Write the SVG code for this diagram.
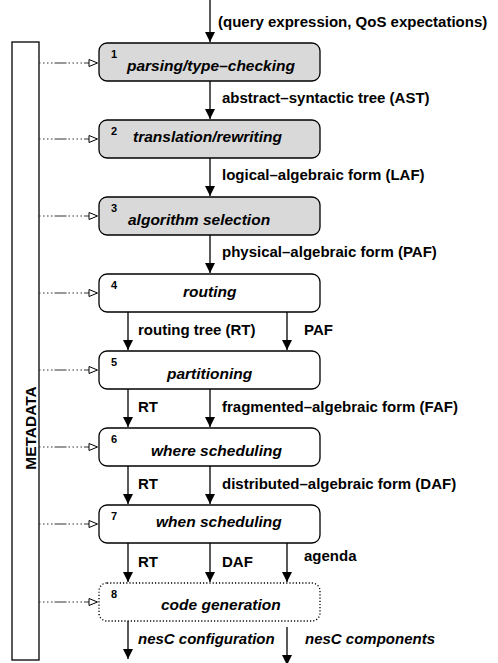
<svg xmlns="http://www.w3.org/2000/svg" width="498" height="663" viewBox="0 0 498 663">
<style>
text{font-family:"Liberation Sans",Arial,sans-serif;font-weight:bold;fill:#000}
.lbl{font-size:15px}
.it{font-style:italic;font-size:15.5px}
.num{font-size:11px}
.box{stroke:#000;stroke-width:1.3}
.g{fill:#d9d9d9}
.w{fill:#fff}
.dot{stroke-dasharray:1.2 2}
.arr{stroke:#000;stroke-width:1.3;fill:none;marker-end:url(#ah)}
.meta{stroke:#333;stroke-width:1;fill:none;stroke-dasharray:1.5 2.5 1.5 2.5 1.5 2.5 1.5 2 12 2}
.tri{fill:#fff;stroke:#000;stroke-width:1}
</style>
<defs>
<marker id="ah" markerWidth="10" markerHeight="10" refX="10" refY="5" orient="auto" markerUnits="userSpaceOnUse" viewBox="0 0 10 10">
<path d="M0,0 L10,5 L0,10 Z" fill="#000"/>
</marker>
</defs>
<g id="metadata">
<rect x="12" y="42" width="27" height="618" fill="#fff" stroke="#000" stroke-width="1.3"/>
<text transform="translate(36,428) rotate(-90)" text-anchor="middle" style="font-size:15.5px">METADATA</text>
</g>
<g id="n1"><rect class="box g" x="99" y="43" width="221" height="38" rx="8"/><text class="num" x="111" y="58">1</text><text class="it" x="127" y="71">parsing/type–checking</text></g>
<g id="n2"><rect class="box g" x="99" y="120" width="221" height="38" rx="8"/><text class="num" x="111" y="135">2</text><text class="it" x="133" y="142">translation/rewriting</text></g>
<g id="n3"><rect class="box g" x="99" y="197" width="221" height="38" rx="8"/><text class="num" x="111" y="212">3</text><text class="it" x="128" y="224.5">algorithm selection</text></g>
<g id="n4"><rect class="box w" x="99" y="274" width="221" height="38" rx="8"/><text class="num" x="111" y="289">4</text><text class="it" x="183" y="297">routing</text></g>
<g id="n5"><rect class="box w" x="99" y="351" width="221" height="38" rx="8"/><text class="num" x="111" y="366">5</text><text class="it" x="167" y="379">partitioning</text></g>
<g id="n6"><rect class="box w" x="99" y="428" width="221" height="38" rx="8"/><text class="num" x="111" y="443">6</text><text class="it" x="151" y="456">where scheduling</text></g>
<g id="n7"><rect class="box w" x="99" y="505" width="221" height="38" rx="8"/><text class="num" x="111" y="520">7</text><text class="it" x="156" y="527">when scheduling</text></g>
<g id="n8"><rect class="box w dot" x="99" y="583" width="221" height="38" rx="8"/><text class="num" x="111" y="598">8</text><text class="it" x="161" y="609.5">code generation</text></g>
<g id="connectors">
<path class="arr" d="M210,0 V42"/>
<path class="arr" d="M210,81 V119"/>
<path class="arr" d="M210,158 V196"/>
<path class="arr" d="M210,235 V273"/>
<path class="arr" d="M128,312 V350"/>
<path class="arr" d="M287,312 V350"/>
<path class="arr" d="M128,389 V427"/>
<path class="arr" d="M210,389 V427"/>
<path class="arr" d="M128,466 V504"/>
<path class="arr" d="M210,466 V504"/>
<path class="arr" d="M128,543 V582"/>
<path class="arr" d="M210,543 V582"/>
<path class="arr" d="M287,543 V582"/>
<path class="arr" d="M128,621 V659"/>
<path class="arr" d="M287,627 V665"/>
<path class="meta" d="M39,63 H89"/><path class="tri" d="M89,59.5 L97.5,63 L89,66.5 Z"/>
<path class="meta" d="M39,139 H89"/><path class="tri" d="M89,135.5 L97.5,139 L89,142.5 Z"/>
<path class="meta" d="M39,216 H89"/><path class="tri" d="M89,212.5 L97.5,216 L89,219.5 Z"/>
<path class="meta" d="M39,293 H89"/><path class="tri" d="M89,289.5 L97.5,293 L89,296.5 Z"/>
<path class="meta" d="M39,370 H89"/><path class="tri" d="M89,366.5 L97.5,370 L89,373.5 Z"/>
<path class="meta" d="M39,447 H89"/><path class="tri" d="M89,443.5 L97.5,447 L89,450.5 Z"/>
<path class="meta" d="M39,524 H89"/><path class="tri" d="M89,520.5 L97.5,524 L89,527.5 Z"/>
<path class="meta" d="M39,602 H89"/><path class="tri" d="M89,598.5 L97.5,602 L89,605.5 Z"/>
<text class="lbl" x="218" y="27">(query expression, QoS expectations)</text>
<text class="lbl" x="222" y="103">abstract–syntactic tree (AST)</text>
<text class="lbl" x="222" y="179.5">logical–algebraic form (LAF)</text>
<text class="lbl" x="222" y="257">physical–algebraic form (PAF)</text>
<text class="lbl" x="138" y="334.5">routing tree (RT)</text>
<text class="lbl" x="304" y="334.5">PAF</text>
<text class="lbl" x="138" y="411.5">RT</text>
<text class="lbl" x="222" y="411.5">fragmented–algebraic form (FAF)</text>
<text class="lbl" x="138" y="488.5">RT</text>
<text class="lbl" x="222" y="488.5">distributed–algebraic form (DAF)</text>
<text class="lbl" x="138" y="567">RT</text>
<text class="lbl" x="222" y="567">DAF</text>
<text class="lbl" x="304" y="561">agenda</text>
<text class="lbl" x="138" y="644" font-style="italic">nesC configuration</text>
<text class="lbl" x="305" y="644" font-style="italic">nesC components</text>
</g>
</svg>
